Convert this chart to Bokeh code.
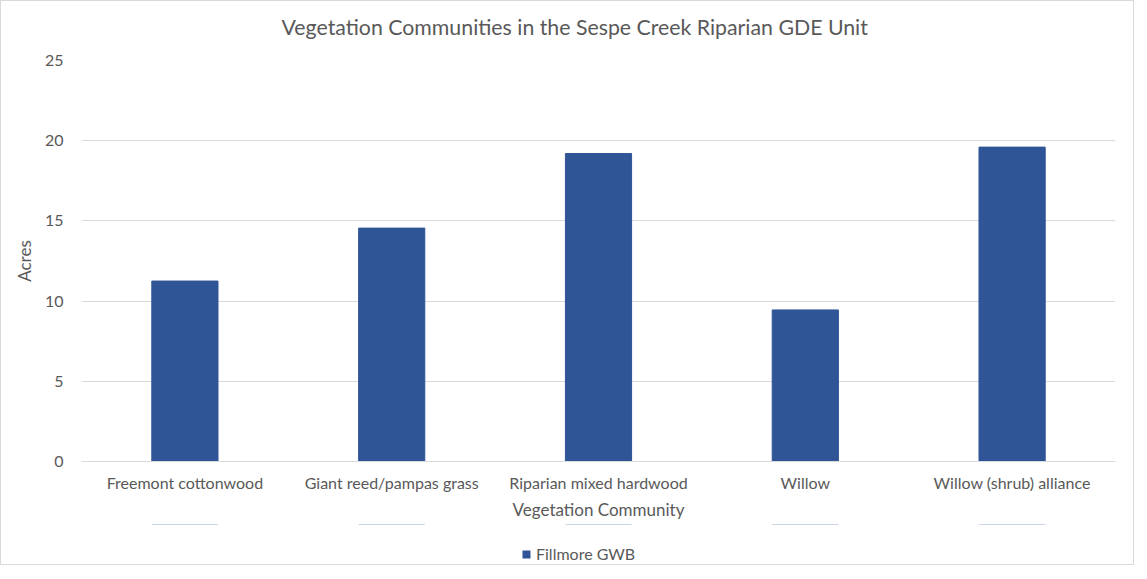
from bokeh.plotting import figure
from bokeh.layouts import column
from bokeh.models import Range1d, FactorRange, Legend, LegendItem, ColumnDataSource, Title
from bokeh.embed import file_html
from bokeh.resources import INLINE

categories = ["Freemont cottonwood", "Giant reed/pampas grass", "Riparian mixed hardwood",
              "Willow", "Willow (shrub) alliance"]
acres = [11.25, 14.55, 19.2, 9.45, 19.6]
series_name = "Fillmore GWB"
y_ticks = [0, 5, 10, 15, 20, 25]

FONT = "Lato"
TXT = "#595959"
BAR = "#2F5597"
GRID = "#d9d9d9"

p = figure(width=1132, height=523, x_range=FactorRange(*categories, range_padding=0),
           y_range=Range1d(0, 25), output_backend="svg", toolbar_location=None,
           min_border_left=80, min_border_right=18, min_border_top=59, min_border_bottom=63)
p.outline_line_color = None
p.background_fill_color = "white"
p.border_fill_color = "white"

p.title.text = "Vegetation Communities in the Sespe Creek Riparian GDE Unit"
p.title.text_font = FONT
p.title.text_font_size = "21.3px"
p.title.text_color = TXT
p.title.text_font_style = "normal"
p.title.align = "left"
p.title.offset = 200
p.title.vertical_align = "middle"

spacer = Title(text=" ", text_font_size="10px", standoff=2, text_color="white")
p.add_layout(spacer, "above")

src = ColumnDataSource(dict(cat=categories, val=acres))
r = p.vbar(x="cat", top="val", width=0.32, source=src, fill_color=BAR, line_color=BAR)

p.xgrid.grid_line_color = None
p.ygrid.grid_line_color = GRID
p.ygrid.grid_line_width = 1
p.yaxis.ticker = y_ticks

for ax in (p.xaxis[0], p.yaxis[0]):
    ax.major_tick_line_color = None
    ax.minor_tick_line_color = None
    ax.major_label_text_font = FONT
    ax.major_label_text_font_size = "16px"
    ax.major_label_text_color = TXT
    ax.axis_label_text_font = FONT
    ax.axis_label_text_font_size = "17px"
    ax.axis_label_text_color = TXT
    ax.axis_label_text_font_style = "normal"
    ax.major_tick_out = 0
    ax.major_tick_in = 0

p.yaxis.axis_line_color = None
p.yaxis.major_label_standoff = 18
p.yaxis.axis_label = "Acres"
p.yaxis.axis_label_standoff = 7

p.xaxis.axis_line_color = GRID
p.xaxis.major_label_standoff = 11
p.xaxis.axis_label = "Vegetation Community"
p.xaxis.axis_label_standoff = 4

# legend strip: zero-height, outline-free bars (invisible); only the legend shows
leg = figure(width=1132, height=40, x_range=FactorRange(*categories, range_padding=0),
             y_range=Range1d(-100, -99), x_axis_type=None, y_axis_type=None,
             output_backend="svg", toolbar_location=None,
             min_border_left=0, min_border_right=0, min_border_top=0, min_border_bottom=0)
leg.grid.visible = False
leg.outline_line_color = None
leg.background_fill_color = "white"
leg.border_fill_color = "white"
lr = leg.vbar(x="cat", top="val", bottom="val", width=0.32, source=src,
              fill_color=BAR, line_color=None)

legend = Legend(items=[LegendItem(label=series_name, renderers=[lr])],
                location=(440, 1), orientation="horizontal",
                label_text_font=FONT, label_text_font_size="16px", label_text_color=TXT,
                glyph_width=10, glyph_height=10, padding=0, margin=0, spacing=0,
                label_standoff=5, border_line_color=None, background_fill_alpha=0)
leg.add_layout(legend)

layout = column(p, leg, spacing=0, styles={"border": "1px solid #d9d9d9"})

open("out.html", "w").write(file_html(layout, INLINE))
